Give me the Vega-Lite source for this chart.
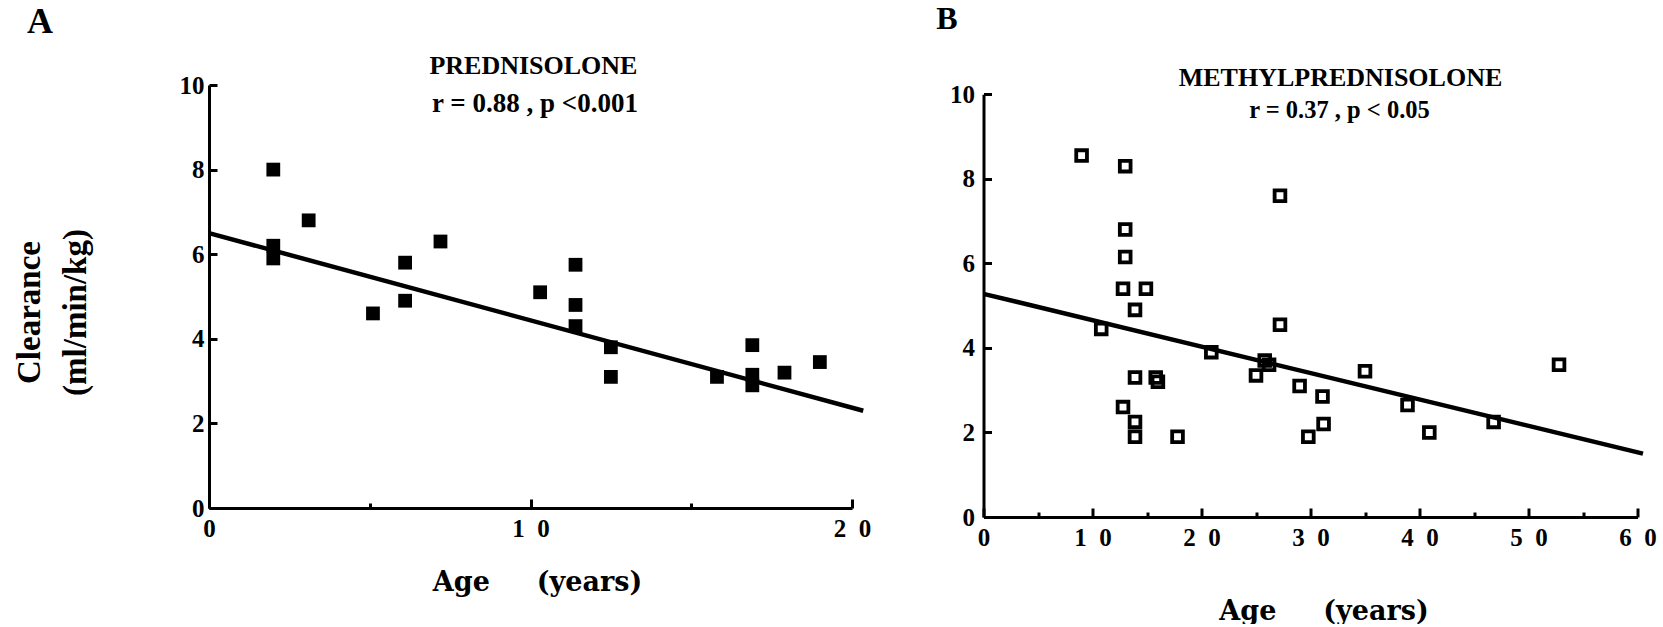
{
  "$schema": "https://vega.github.io/schema/vega-lite/v6.json",
  "background": "white",
  "padding": {"left": 12, "top": 2, "right": 5, "bottom": 0},
  "datasets": {
    "prednisolone": [
      {"age": 2.0, "clearance": 8.0},
      {"age": 2.0, "clearance": 6.2},
      {"age": 2.0, "clearance": 5.9},
      {"age": 3.1, "clearance": 6.8},
      {"age": 5.1, "clearance": 4.6},
      {"age": 6.1, "clearance": 5.8},
      {"age": 6.1, "clearance": 4.9},
      {"age": 7.2, "clearance": 6.3},
      {"age": 10.3, "clearance": 5.1},
      {"age": 11.4, "clearance": 5.75},
      {"age": 11.4, "clearance": 4.8},
      {"age": 11.4, "clearance": 4.3},
      {"age": 12.5, "clearance": 3.8},
      {"age": 12.5, "clearance": 3.1},
      {"age": 15.8, "clearance": 3.1},
      {"age": 16.9, "clearance": 3.85},
      {"age": 16.9, "clearance": 3.15},
      {"age": 16.9, "clearance": 2.9},
      {"age": 17.9, "clearance": 3.2},
      {"age": 19.0, "clearance": 3.45}
    ],
    "methylprednisolone": [
      {"age": 9.0, "clearance": 8.55},
      {"age": 13.0, "clearance": 8.3},
      {"age": 27.2, "clearance": 7.6},
      {"age": 13.0, "clearance": 6.8},
      {"age": 13.0, "clearance": 6.15},
      {"age": 12.8, "clearance": 5.4},
      {"age": 14.9, "clearance": 5.4},
      {"age": 13.9, "clearance": 4.9},
      {"age": 10.8, "clearance": 4.45},
      {"age": 27.2, "clearance": 4.55},
      {"age": 20.9, "clearance": 3.9},
      {"age": 25.8, "clearance": 3.7},
      {"age": 26.2, "clearance": 3.6},
      {"age": 25.0, "clearance": 3.35},
      {"age": 13.9, "clearance": 3.3},
      {"age": 15.8, "clearance": 3.3},
      {"age": 16.0, "clearance": 3.2},
      {"age": 29.0, "clearance": 3.1},
      {"age": 31.1, "clearance": 2.85},
      {"age": 35.0, "clearance": 3.45},
      {"age": 12.8, "clearance": 2.6},
      {"age": 13.9, "clearance": 2.25},
      {"age": 13.9, "clearance": 1.9},
      {"age": 17.8, "clearance": 1.9},
      {"age": 29.8, "clearance": 1.9},
      {"age": 31.2, "clearance": 2.2},
      {"age": 38.9, "clearance": 2.65},
      {"age": 40.9, "clearance": 2.0},
      {"age": 46.8, "clearance": 2.25},
      {"age": 52.8, "clearance": 3.6}
    ],
    "fitPrednisolone": [
      {"age": 0, "clearance": 6.5},
      {"age": 20.35, "clearance": 2.3}
    ],
    "fitMethylprednisolone": [
      {"age": 0, "clearance": 5.28},
      {"age": 60.5, "clearance": 1.5}
    ]
  },
  "config": {
    "view": {"stroke": null},
    "font": "Liberation Serif",
    "axis": {
      "grid": false,
      "domainColor": "black",
      "domainWidth": 3,
      "tickColor": "black",
      "tickWidth": 3,
      "labelColor": "black",
      "labelFont": "Liberation Serif",
      "labelFontWeight": "bold",
      "labelFontSize": 25,
      "labelFlush": false,
      "labelOverlap": false,
      "titleColor": "black",
      "titleFontWeight": "bold"
    },
    "text": {"color": "black", "font": "Liberation Serif", "fontWeight": "bold"}
  },
  "bounds": "flush",
  "spacing": 131.5,
  "hconcat": [
    {
      "width": 643,
      "height": 423,
      "resolve": {"axis": {"x": "independent"}},
      "layer": [
        {
          "data": {"name": "prednisolone"},
          "mark": {"type": "point", "shape": "square", "filled": true, "color": "black", "opacity": 1, "size": 190},
          "encoding": {
            "x": {
              "field": "age",
              "type": "quantitative",
              "scale": {"domain": [0, 20], "nice": false},
              "axis": {
                "orient": "bottom",
                "values": [0, 10, 20],
                "tickSize": -9,
                "labelPadding": 17,
                "labelExpr": "join(split(datum.label, ''), '\u00a0\u00a0')",
                "title": "Age\u00a0\u00a0\u00a0\u00a0\u00a0(years)",
                "titleFont": "DejaVu Serif",
                "titleFontSize": 27,
                "titleAlign": "center",
                "titleBaseline": "alphabetic",
                "titleX": 328,
                "titleY": 82.3
              }
            },
            "y": {
              "field": "clearance",
              "type": "quantitative",
              "scale": {"domain": [0, 10], "nice": false},
              "axis": {
                "values": [0, 2, 4, 6, 8, 10],
                "tickSize": -8,
                "labelPadding": 13,
                "title": ["Clearance", "(ml/min/kg)"],
                "titleFont": "Liberation Serif",
                "titleFontSize": 33,
                "titleAngle": -90,
                "titleAlign": "center",
                "titleBaseline": "middle",
                "titleLineHeight": 46,
                "titleX": -180,
                "titleY": 227
              }
            }
          }
        },
        {
          "data": {"name": "fitPrednisolone"},
          "mark": {"type": "line", "color": "black", "strokeWidth": 4.5, "clip": false},
          "encoding": {
            "x": {
              "field": "age",
              "type": "quantitative",
              "axis": {"orient": "bottom", "values": [5, 15], "tickSize": -5, "labels": false, "domain": false, "title": null}
            },
            "y": {"field": "clearance", "type": "quantitative"}
          }
        },
        {
          "data": {"values": [{}]},
          "mark": {"type": "text", "fontSize": 36, "align": "center", "baseline": "middle"},
          "encoding": {"x": {"datum": -5.26, "axis": null}, "y": {"datum": 11.48}, "text": {"value": "A"}}
        },
        {
          "data": {"values": [{}]},
          "mark": {"type": "text", "fontSize": 26, "align": "center", "baseline": "alphabetic"},
          "encoding": {"x": {"datum": 10.09, "axis": null}, "y": {"datum": 10.27}, "text": {"value": "PREDNISOLONE"}}
        },
        {
          "data": {"values": [{}]},
          "mark": {"type": "text", "fontSize": 27, "align": "center", "baseline": "alphabetic"},
          "encoding": {"x": {"datum": 10.14, "axis": null}, "y": {"datum": 9.37}, "text": {"value": "r = 0.88 , p <0.001"}}
        }
      ]
    },
    {
      "width": 654,
      "height": 432,
      "resolve": {"axis": {"x": "independent"}},
      "layer": [
        {
          "data": {"name": "methylprednisolone"},
          "mark": {"type": "point", "shape": "square", "filled": false, "color": "black", "opacity": 1, "size": 115, "strokeWidth": 3.8},
          "encoding": {
            "x": {
              "field": "age",
              "type": "quantitative",
              "scale": {"domain": [0, 60], "nice": false},
              "axis": {
                "orient": "bottom",
                "values": [0, 10, 20, 30, 40, 50, 60],
                "tickSize": -9,
                "labelPadding": 17,
                "labelExpr": "join(split(datum.label, ''), '\u00a0\u00a0')",
                "title": "Age\u00a0\u00a0\u00a0\u00a0\u00a0(years)",
                "titleFont": "DejaVu Serif",
                "titleFontSize": 27,
                "titleAlign": "center",
                "titleBaseline": "alphabetic",
                "titleX": 340,
                "titleY": 102
              }
            },
            "y": {
              "field": "clearance",
              "type": "quantitative",
              "scale": {"domain": [0, 10], "nice": false, "range": [432, 9.3]},
              "axis": {
                "values": [0, 2, 4, 6, 8, 10],
                "tickSize": -8,
                "labelPadding": 17,
                "title": null
              }
            }
          }
        },
        {
          "data": {"name": "fitMethylprednisolone"},
          "mark": {"type": "line", "color": "black", "strokeWidth": 4.5, "clip": false},
          "encoding": {
            "x": {
              "field": "age",
              "type": "quantitative",
              "axis": {"orient": "bottom", "values": [5, 15, 25, 35, 45, 55], "tickSize": -5, "labels": false, "domain": false, "title": null}
            },
            "y": {"field": "clearance", "type": "quantitative"}
          }
        },
        {
          "data": {"values": [{}]},
          "mark": {"type": "text", "fontSize": 32, "align": "center", "baseline": "middle"},
          "encoding": {"x": {"datum": -3.35, "axis": null}, "y": {"datum": 11.79}, "text": {"value": "B"}}
        },
        {
          "data": {"values": [{}]},
          "mark": {"type": "text", "fontSize": 26, "align": "center", "baseline": "alphabetic"},
          "encoding": {"x": {"datum": 32.75, "axis": null}, "y": {"datum": 10.2}, "text": {"value": "METHYLPREDNISOLONE"}}
        },
        {
          "data": {"values": [{}]},
          "mark": {"type": "text", "fontSize": 24.5, "align": "center", "baseline": "alphabetic"},
          "encoding": {"x": {"datum": 32.66, "axis": null}, "y": {"datum": 9.43}, "text": {"value": "r = 0.37 , p < 0.05"}}
        }
      ]
    }
  ]
}
